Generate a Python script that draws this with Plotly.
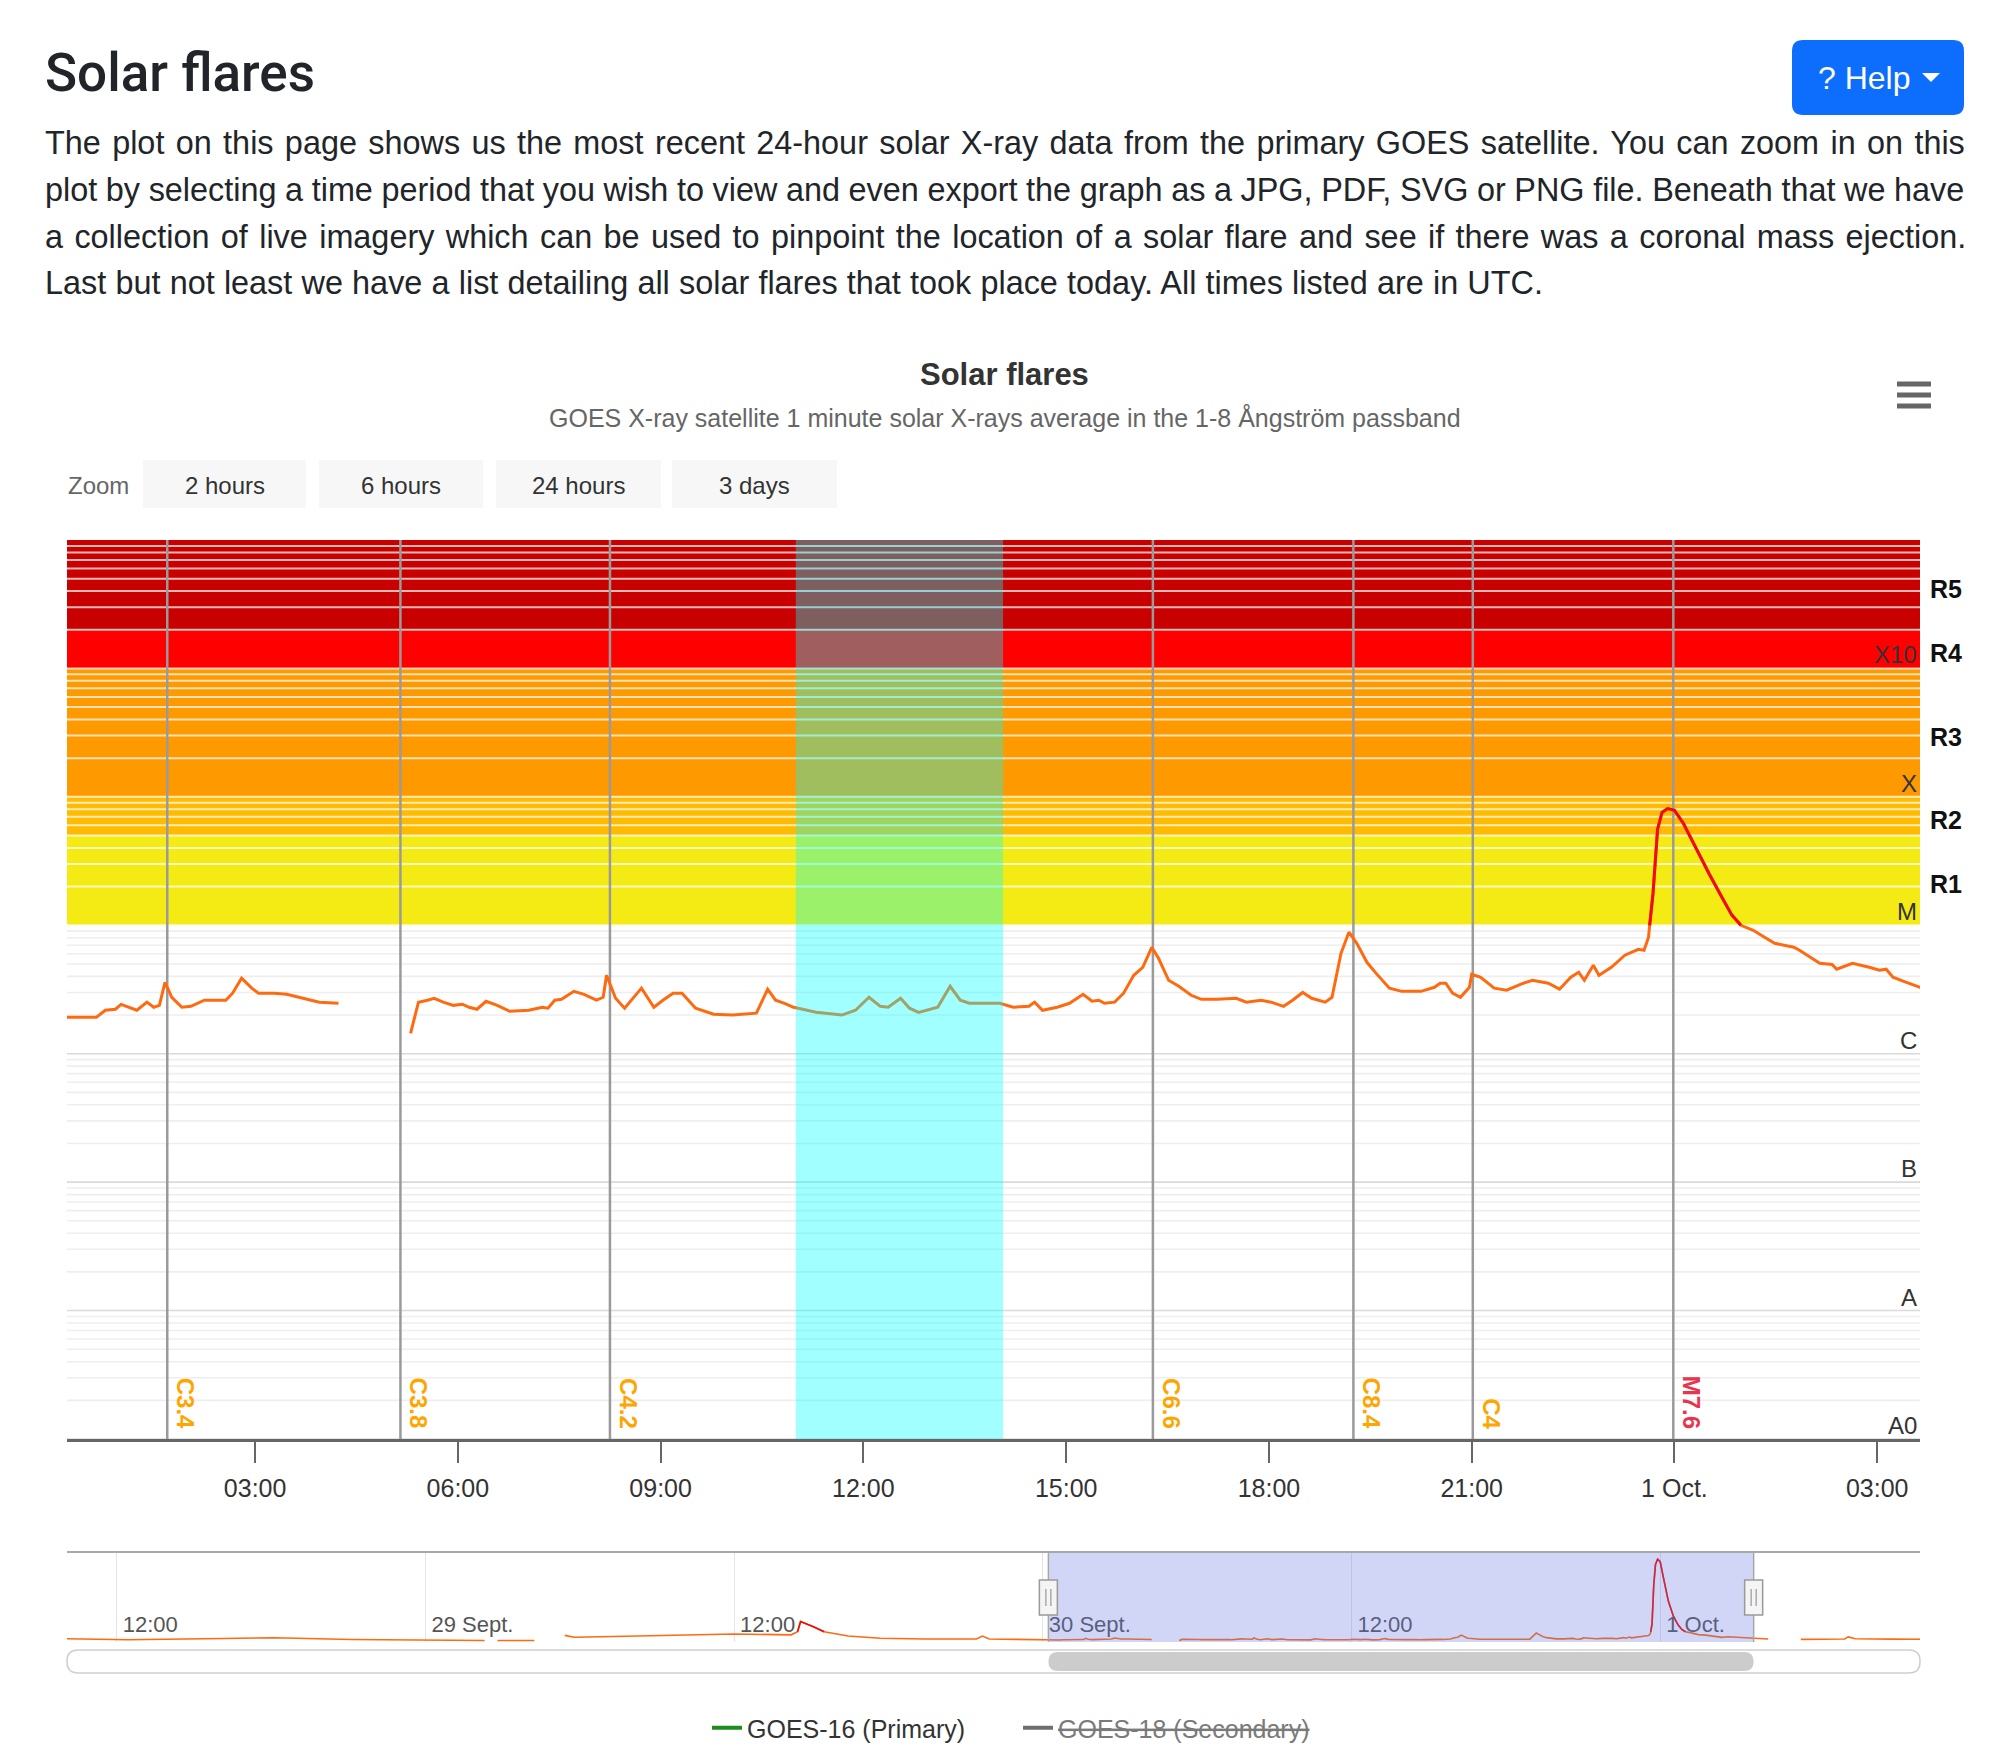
import math
import pandas as pd
import plotly.graph_objects as go

W, H = 2000, 1764


def px(x):
    return x / W


def py(y):
    return 1 - y / H


FONT = "Liberation Sans, Arial, Helvetica, sans-serif"

# ---------------- data (GOES-16 1-minute X-ray flux, W/m^2; None = data gap) ----------------
TIME_SEP28_29 = ["2023-09-28 10:00", "2023-09-28 12:25", "2023-09-28 16:08", "2023-09-28 18:08",
                 "2023-09-28 21:06", "2023-09-28 23:35", "2023-09-29 02:18", "2023-09-29 02:33",
                 "2023-09-29 02:48", "2023-09-29 04:14", "2023-09-29 04:50", "2023-09-29 05:25",
                 "2023-09-29 05:47", "2023-09-29 08:16", "2023-09-29 11:59", "2023-09-29 14:13",
                 "2023-09-29 14:28", "2023-09-29 14:35", "2023-09-29 15:05", "2023-09-29 15:30",
                 "2023-09-29 15:42", "2023-09-29 16:26", "2023-09-29 17:41", "2023-09-29 19:25",
                 "2023-09-29 21:25", "2023-09-29 21:39", "2023-09-29 21:55", "2023-09-29 23:40"]
FLUX_SEP28_29 = [3.2e-6, 2.2e-6, 3.4e-6, 4.2e-6,
                 2.4e-6, 1.8e-6, 1.5e-6, None,
                 1.4e-6, 1.4e-6, None, 6.5e-6,
                 4.6e-6, 5.8e-6, 7.8e-6, 7.0e-6,
                 1.0e-5, 2.0e-5, 1.5e-5, 1.0e-5,
                 9.0e-6, 5.8e-6, 3.6e-6, 2.9e-6,
                 2.9e-6, 5.8e-6, 3.0e-6, 1.9e-6]

TIME_SEP30 = ["00:13", "00:39", "00:47", "00:56", "01:01", "01:07", "01:15", "01:24", "01:30", "01:35",
              "01:40", "01:46", "01:55", "02:03", "02:09", "02:15", "02:34", "02:40", "02:48", "02:57",
              "03:03", "03:17", "03:28", "03:40", "03:57", "04:14", "04:45", "05:18", "05:25", "05:33",
              "05:39", "05:47", "05:56", "06:04", "06:10", "06:17", "06:25", "06:35", "06:46", "07:03",
              "07:15", "07:20", "07:26", "07:32", "07:43", "07:52", "08:03", "08:09", "08:12", "08:20",
              "08:28", "08:43", "08:54", "09:02", "09:11", "09:19", "09:31", "09:47", "10:04", "10:25",
              "10:35", "10:42", "10:50", "10:58", "11:18", "11:41", "11:53", "12:05", "12:15", "12:22",
              "12:33", "12:41", "12:49", "13:06", "13:17", "13:26", "13:34", "14:01", "14:13", "14:27",
              "14:32", "14:39", "14:52", "15:03", "15:15", "15:23", "15:29", "15:34", "15:43", "15:51",
              "16:00", "16:08", "16:16", "16:22", "16:31", "16:40", "16:51", "17:00", "17:14", "17:31",
              "17:40", "17:53", "18:02", "18:13", "18:21", "18:30", "18:38", "18:50", "18:56", "19:04",
              "19:11", "19:18", "19:27", "19:35", "19:47", "19:58", "20:15", "20:27", "20:32", "20:37",
              "20:43", "20:50", "20:58", "21:00", "21:08", "21:20", "21:31", "21:46", "21:54", "22:08",
              "22:18", "22:28", "22:35", "22:40", "22:48", "22:53", "23:04", "23:16", "23:28", "23:33",
              "23:37", "23:38", "23:41", "23:45", "23:49", "23:54"]
FLUX_SEP30 = [1.92e-6, 1.92e-6, 2.18e-6, 2.22e-6, 2.42e-6, 2.30e-6, 2.18e-6, 2.52e-6, 2.30e-6, 2.38e-6,
              3.60e-6, 2.75e-6, 2.30e-6, 2.34e-6, 2.47e-6, 2.61e-6, 2.61e-6, 2.96e-6, 3.87e-6, 3.24e-6,
              2.96e-6, 2.96e-6, 2.90e-6, 2.75e-6, 2.52e-6, 2.47e-6, None, 1.44e-6, 2.52e-6, 2.61e-6,
              2.70e-6, 2.52e-6, 2.38e-6, 2.43e-6, 2.30e-6, 2.22e-6, 2.56e-6, 2.38e-6, 2.14e-6, 2.18e-6,
              2.30e-6, 2.26e-6, 2.61e-6, 2.65e-6, 3.06e-6, 2.90e-6, 2.61e-6, 2.75e-6, 4.08e-6, 2.70e-6,
              2.26e-6, 3.24e-6, 2.30e-6, 2.61e-6, 2.96e-6, 2.96e-6, 2.26e-6, 2.03e-6, 2.00e-6, 2.07e-6,
              3.18e-6, 2.61e-6, 2.47e-6, 2.30e-6, 2.10e-6, 2.00e-6, 2.18e-6, 2.75e-6, 2.34e-6, 2.30e-6,
              2.70e-6, 2.26e-6, 2.10e-6, 2.30e-6, 3.35e-6, 2.61e-6, 2.47e-6, 2.47e-6, 2.30e-6, 2.34e-6,
              2.52e-6, 2.18e-6, 2.30e-6, 2.47e-6, 2.90e-6, 2.56e-6, 2.61e-6, 2.47e-6, 2.52e-6, 2.96e-6,
              4.08e-6, 4.71e-6, 6.74e-6, 5.53e-6, 3.73e-6, 3.35e-6, 2.85e-6, 2.65e-6, 2.65e-6, 2.70e-6,
              2.52e-6, 2.61e-6, 2.52e-6, 2.34e-6, 2.61e-6, 3.00e-6, 2.70e-6, 2.52e-6, 2.75e-6, 6.05e-6,
              8.83e-6, 7.24e-6, 5.15e-6, 4.24e-6, 3.24e-6, 3.06e-6, 3.06e-6, 3.29e-6, 3.54e-6, 3.54e-6,
              2.96e-6, 2.75e-6, 3.29e-6, 4.16e-6, 3.94e-6, 3.24e-6, 3.12e-6, 3.54e-6, 3.73e-6, 3.54e-6,
              3.18e-6, 3.94e-6, 4.31e-6, 3.73e-6, 4.89e-6, 4.08e-6, 4.71e-6, 5.85e-6, 6.50e-6, 6.39e-6,
              8.07e-6, 1.0e-5, 1.77e-5, 5.58e-5, 7.57e-5, 8.10e-5]

TIME_OCT1 = ["00:00", "00:08", "00:19", "00:31", "00:42", "00:51", "00:59", "01:10", "01:20", "01:29",
             "01:46", "01:51", "02:09", "02:20", "02:24", "02:38", "02:53", "03:02", "03:08", "03:14",
             "03:23", "03:38", "03:55", "04:12", "04:50", "05:28", "06:30", "07:10", "07:19", "07:35",
             "09:00", "10:07"]
FLUX_OCT1 = [7.85e-5, 6.2e-5, 4.0e-5, 2.5e-5, 1.66e-5, 1.2e-5, 1.0e-5, 9.14e-6, 8.07e-6, 7.24e-6,
             6.74e-6, 6.39e-6, 5.06e-6, 4.95e-6, 4.55e-6, 5.06e-6, 4.71e-6, 4.47e-6, 4.55e-6, 3.94e-6,
             3.67e-6, 3.29e-6, 3.10e-6, 3.00e-6, None, 2.6e-6, 2.8e-6, 3.0e-6, 5.0e-6, 3.2e-6,
             2.8e-6, 2.7e-6]

FLARE_TIMES = ["2023-09-30 01:42", "2023-09-30 05:09", "2023-09-30 08:15", "2023-09-30 16:17",
               "2023-09-30 19:15", "2023-09-30 21:01", "2023-09-30 23:59"]
FLARE_CLASSES = ["C3.4", "C3.8", "C4.2", "C6.6", "C8.4", "C4", "M7.6"]

CLASS_VALUES = [1e-9, 1e-8, 1e-7, 1e-6, 1e-5, 1e-4, 1e-3]
CLASS_LABELS = ["A0", "A", "B", "C", "M", "X", "X10"]
Y_RANGE = [1e-9, 1e-2]

BAND_EDGES = [1e-5, 5e-5, 1e-4, 1e-3, 2e-3, 1e-2]
BAND_NAMES = ["R1", "R2", "R3", "R4", "R5"]
BAND_COLORS = ["#f5eb14", "#ffbb00", "#ff9900", "#ff0000", "#c80000"]
M_LEVEL = 1e-5

HIGHLIGHT = ["2023-09-30 11:00", "2023-09-30 14:04"]
VIEW = ["2023-09-30 00:13", "2023-10-01 03:38"]
NAV_RANGE = ["2023-09-28 10:04", "2023-10-01 10:06"]

MAIN_TICKS = ["2023-09-30 03:00", "2023-09-30 06:00", "2023-09-30 09:00", "2023-09-30 12:00",
              "2023-09-30 15:00", "2023-09-30 18:00", "2023-09-30 21:00", "2023-10-01 00:00",
              "2023-10-01 03:00"]
MAIN_TICK_LABELS = ["03:00", "06:00", "09:00", "12:00", "15:00", "18:00", "21:00", "1 Oct.", "03:00"]
NAV_TICKS = ["2023-09-28 12:00", "2023-09-29 00:00", "2023-09-29 12:00", "2023-09-30 00:00",
             "2023-09-30 12:00", "2023-10-01 00:00"]
NAV_TICK_LABELS = ["12:00", "29 Sept.", "12:00", "30 Sept.", "12:00", "1 Oct."]

PARAGRAPH = [
    "The plot on this page shows us the most recent 24-hour solar X-ray data from the primary GOES satellite. You can zoom in on this",
    "plot by selecting a time period that you wish to view and even export the graph as a JPG, PDF, SVG or PNG file. Beneath that we have",
    "a collection of live imagery which can be used to pinpoint the location of a solar flare and see if there was a coronal mass ejection.",
    "Last but not least we have a list detailing all solar flares that took place today. All times listed are in UTC.",
]
PARAGRAPH_WORD_SPACING = [2.35, -0.4, 2.38, 0.2]
ZOOM_BUTTONS = ["2 hours", "6 hours", "24 hours", "3 days"]

# ---------------- assemble series ----------------
times = (TIME_SEP28_29 + ["2023-09-30 " + t for t in TIME_SEP30] + ["2023-10-01 " + t for t in TIME_OCT1])
flux = FLUX_SEP28_29 + FLUX_SEP30 + FLUX_OCT1
flux_m = [v if (v is not None and v >= M_LEVEL) else None for v in flux]

ORANGE = "#ff6a10"
RED = "#f00a0a"

fig = go.Figure()
fig.add_trace(go.Scatter(x=[None], y=[None], mode="lines", name="GOES-16 (Primary)",
                         line=dict(color="#1e8c1e", width=4)))
fig.add_trace(go.Scatter(x=[None], y=[None], mode="lines",
                         name='<span style="color:#7a7a7a"><s>GOES-18 (Secondary)</s></span>',
                         line=dict(color="#6e6e6e", width=4)))
fig.add_trace(go.Scatter(x=times, y=flux, mode="lines", line=dict(color=ORANGE, width=3),
                         showlegend=False, connectgaps=False))
fig.add_trace(go.Scatter(x=times, y=flux_m, mode="lines", line=dict(color=RED, width=3),
                         showlegend=False, connectgaps=False))
fig.add_trace(go.Scatter(x=times, y=flux, mode="lines", line=dict(color=ORANGE, width=1.6),
                         showlegend=False, connectgaps=False, xaxis="x2", yaxis="y2"))
fig.add_trace(go.Scatter(x=times, y=flux_m, mode="lines", line=dict(color=RED, width=1.6),
                         showlegend=False, connectgaps=False, xaxis="x2", yaxis="y2"))

shapes = []
# flare-scale bands
for i, name in enumerate(BAND_NAMES):
    shapes.append(dict(type="rect", xref="x", x0=VIEW[0], x1=VIEW[1], yref="y",
                       y0=BAND_EDGES[i], y1=BAND_EDGES[i + 1], fillcolor=BAND_COLORS[i],
                       line=dict(width=0), layer="below"))
# horizontal grid lines: grey on white, pale over the coloured bands
for e in range(-9, -2):
    for k in range(1, 10):
        v = k * 10 ** e
        if v >= BAND_EDGES[0]:
            col, wd = "rgba(255,255,255,0.72)", 2
        elif k == 1:
            col, wd = "#dadada", 1.6
        else:
            col, wd = "#eeeeee", 1.6
        shapes.append(dict(type="line", xref="x", x0=VIEW[0], x1=VIEW[1], yref="y", y0=v, y1=v,
                           line=dict(color=col, width=wd), layer="below"))
# flare marker lines
for t in FLARE_TIMES:
    shapes.append(dict(type="line", xref="x", x0=t, x1=t, yref="y", y0=Y_RANGE[0], y1=Y_RANGE[1],
                       line=dict(color="#9a9a9a", width=2.5), layer="below"))
# highlighted interval
shapes.append(dict(type="rect", xref="x", x0=HIGHLIGHT[0], x1=HIGHLIGHT[1], yref="y",
                   y0=Y_RANGE[0], y1=Y_RANGE[1], fillcolor="rgba(0,255,255,0.37)",
                   line=dict(width=0), layer="above"))

# navigator mask, outline, handles
shapes.append(dict(type="rect", xref="x2", x0=VIEW[0], x1=VIEW[1], yref="y2 domain", y0=0, y1=1,
                   fillcolor="rgba(102,120,230,0.30)", line=dict(width=0), layer="above"))
shapes.append(dict(type="line", xref="x2 domain", x0=0, x1=1, yref="y2 domain", y0=1, y1=1,
                   line=dict(color="#a8a8a8", width=2), layer="above"))
for t in VIEW:
    shapes.append(dict(type="line", xref="x2", x0=t, x1=t, yref="y2 domain", y0=0, y1=1,
                       line=dict(color="#a8a8a8", width=1.5), layer="above"))
    shapes.append(dict(type="rect", xref="x2", xsizemode="pixel", xanchor=t, x0=-9, x1=9,
                       yref="y2 domain", y0=0.30, y1=0.69, fillcolor="#f4f4f4",
                       line=dict(color="#999999", width=1.5), layer="above"))
    for dx in (-2.5, 2.5):
        shapes.append(dict(type="line", xref="x2", xsizemode="pixel", xanchor=t, x0=dx, x1=dx,
                           yref="y2 domain", y0=0.40, y1=0.59, line=dict(color="#999999", width=1.2),
                           layer="above"))


def rounded_path(x0, y0, x1, y1, rx, ry, fx, fy):
    pts = [
        ("M", [(x0 + rx, y0)]), ("L", [(x1 - rx, y0)]), ("Q", [(x1, y0), (x1, y0 + ry)]),
        ("L", [(x1, y1 - ry)]), ("Q", [(x1, y1), (x1 - rx, y1)]), ("L", [(x0 + rx, y1)]),
        ("Q", [(x0, y1), (x0, y1 - ry)]), ("L", [(x0, y0 + ry)]), ("Q", [(x0, y0), (x0 + rx, y0)]),
    ]
    out = []
    for cmd, pp in pts:
        out.append(cmd + " ".join(f"{fx(a)},{fy(b)}" for a, b in pp))
    return " ".join(out) + " Z"


pxs = lambda v: f"{px(v):.6f}"
pys = lambda v: f"{py(v):.6f}"

# scrollbar track and thumb
shapes.append(dict(type="path", xref="paper", yref="paper",
                   path=rounded_path(67, 1650, 1920, 1673, 11, 11, pxs, pys),
                   fillcolor="white", line=dict(color="#cfcfcf", width=1.5), layer="above"))
v0, v1 = pd.Timestamp(VIEW[0]), pd.Timestamp(VIEW[1])
rt = pd.Timedelta(minutes=23)
tf = lambda ts: ts.strftime("%Y-%m-%d_%H:%M:%S")
shapes.append(dict(type="path", xref="x2", yref="paper",
                   path=rounded_path(v0, 1652, v1, 1671, rt, 9.5, tf, pys),
                   fillcolor="#cccccc", line=dict(width=0), layer="above"))

# page chrome: help button, caret, zoom buttons, menu icon
shapes.append(dict(type="path", xref="paper", yref="paper",
                   path=rounded_path(1792, 40, 1964, 115, 11, 11, pxs, pys),
                   fillcolor="#0d6efd", line=dict(width=0), layer="above"))
shapes.append(dict(type="path", xref="paper", yref="paper",
                   path=f"M{pxs(1922)},{pys(73)} L{pxs(1940)},{pys(73)} L{pxs(1931)},{pys(82)} Z",
                   fillcolor="white", line=dict(width=0), layer="above"))
BUTTON_X = [(143, 306), (319, 483), (496, 661), (672, 837)]
for (a, b) in BUTTON_X:
    shapes.append(dict(type="rect", xref="paper", yref="paper", x0=px(a), x1=px(b),
                       y0=py(508), y1=py(460), fillcolor="#f7f7f7", line=dict(width=0), layer="above"))
for yy in (384, 395, 406):
    shapes.append(dict(type="line", xref="paper", yref="paper", x0=px(1897), x1=px(1931),
                       y0=py(yy), y1=py(yy), line=dict(color="#666666", width=5), layer="above"))

ann = []
ann.append(dict(text="Solar flares", xref="paper", yref="paper", x=px(43), y=py(73),
                xanchor="left", yanchor="middle", showarrow=False,
                font=dict(family="Roboto, Liberation Sans, sans-serif", size=53, color="#212529", weight=500)))
for i, line in enumerate(PARAGRAPH):
    ann.append(dict(text=f'<span style="word-spacing:{PARAGRAPH_WORD_SPACING[i]}px">{line}</span>',
                    xref="paper", yref="paper", x=px(43), y=py(143 + 46.8 * i),
                    xanchor="left", yanchor="middle", showarrow=False,
                    font=dict(size=32.4, color="#212529")))
ann.append(dict(text="? Help", xref="paper", yref="paper", x=px(1816), y=py(78),
                xanchor="left", yanchor="middle", showarrow=False, font=dict(size=32, color="white")))
ann.append(dict(text="<b>Solar flares</b>", xref="paper", yref="paper", x=px(1005), y=py(375),
                xanchor="center", yanchor="middle", showarrow=False, font=dict(size=31, color="#333333")))
ann.append(dict(text="GOES X-ray satellite 1 minute solar X-rays average in the 1-8 Ångström passband",
                xref="paper", yref="paper", x=px(1005), y=py(417), xanchor="center", yanchor="middle",
                showarrow=False, font=dict(size=25, color="#666666")))
ann.append(dict(text="Zoom", xref="paper", yref="paper", x=px(66), y=py(485), xanchor="left",
                yanchor="middle", showarrow=False, font=dict(size=24, color="#666666")))
for (a, b), lab in zip(BUTTON_X, ZOOM_BUTTONS):
    ann.append(dict(text=lab, xref="paper", yref="paper", x=px((a + b) / 2), y=py(485),
                    xanchor="center", yanchor="middle", showarrow=False,
                    font=dict(size=24, color="#333333")))
# flare-class labels inside the right edge, just above each decade line
for v, lab in zip(CLASS_VALUES, CLASS_LABELS):
    ann.append(dict(text=lab, xref="x domain", yref="y", x=1, y=math.log10(v), xanchor="right",
                    yanchor="bottom", xshift=-1, yshift=-2, showarrow=False,
                    font=dict(size=24, color="#333333")))
# R-scale labels, centred on each band
for i, name in enumerate(BAND_NAMES):
    yc = (math.log10(BAND_EDGES[i]) + math.log10(BAND_EDGES[i + 1])) / 2
    ann.append(dict(text=f"<b>{name}</b>", xref="paper", yref="y", x=px(1928), y=yc,
                    xanchor="left", yanchor="middle", yshift=-4, showarrow=False,
                    font=dict(size=25, color="#111111")))
# flare class labels
for t, c in zip(FLARE_TIMES, FLARE_CLASSES):
    col = "#e8344c" if c.startswith(("M", "X")) else "#ffa500"
    ann.append(dict(text=f"<b>{c}</b>", xref="x", yref="y domain", x=t, y=0, xanchor="left",
                    yanchor="bottom", xshift=3, yshift=8, textangle=90, showarrow=False,
                    font=dict(size=24, color=col)))

fig.update_layout(
    width=W, height=H, margin=dict(l=0, r=0, t=0, b=0),
    paper_bgcolor="white", plot_bgcolor="rgba(0,0,0,0)",
    font=dict(family=FONT, color="#333333"),
    hovermode=False,
    shapes=shapes, annotations=ann,
    xaxis=dict(domain=[px(67), px(1920)], type="date", range=VIEW, anchor="y",
               tickmode="array", tickvals=MAIN_TICKS, ticktext=MAIN_TICK_LABELS,
               ticks="outside", ticklen=21, tickwidth=2, tickcolor="#666666",
               showline=True, linecolor="#666666", linewidth=3, showgrid=False, zeroline=False,
               tickfont=dict(size=25, color="#333333"), ticklabelstandoff=4, fixedrange=True),
    yaxis=dict(domain=[py(1439), py(540)], type="log",
               range=[math.log10(Y_RANGE[0]), math.log10(Y_RANGE[1])], anchor="x", side="right",
               showticklabels=False, ticks="", showgrid=False, zeroline=False,
               showline=False, fixedrange=True),
    xaxis2=dict(domain=[px(67), px(1920)], type="date", range=NAV_RANGE, anchor="y2",
                tickmode="array", tickvals=NAV_TICKS, ticktext=NAV_TICK_LABELS,
                ticklabelposition="inside right", ticklabelshift=6, ticks="", showgrid=True,
                gridcolor="#e4e4e4", gridwidth=1, showline=False, zeroline=False,
                tickfont=dict(size=22, color="#555555"), fixedrange=True),
    yaxis2=dict(domain=[py(1642), py(1552)], range=[0, 8.8e-5], anchor="x2", visible=False,
                fixedrange=True),
    legend=dict(orientation="h", x=0.509, xanchor="center", y=py(1728), yanchor="middle",
                font=dict(size=25, color="#333333"), bgcolor="rgba(0,0,0,0)",
                entrywidth=266, entrywidthmode="pixels"),
)

fig.write_html("out.html")
